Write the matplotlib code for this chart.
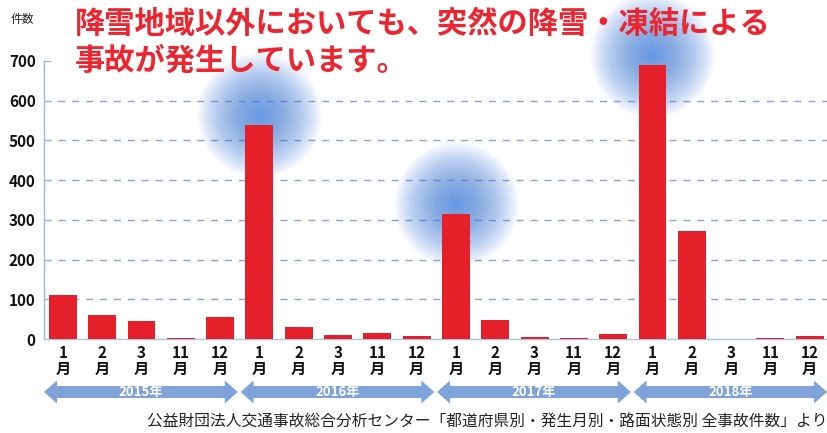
import matplotlib
matplotlib.use("Agg")
import matplotlib.pyplot as plt
import numpy as np
from matplotlib.patches import Polygon
from matplotlib.transforms import blended_transform_factory, offset_copy

plt.rcParams['font.family'] = ['Noto Sans CJK JP', 'DejaVu Sans']

# ---- data ----
years = ["2015年", "2016年", "2017年", "2018年"]
months = ["1", "2", "3", "11", "12"]
values_2015 = [110, 60, 45, 2, 55]
values_2016 = [540, 30, 10, 15, 8]
values_2017 = [315, 48, 4, 2, 13]
values_2018 = [690, 271, 1, 2, 8]
yticks = [0, 100, 200, 300, 400, 500, 600, 700]
title_text = "降雪地域以外においても、突然の降雪・凍結による\n事故が発生しています。"
ylabel_text = "件数"
source_text = "公益財団法人交通事故総合分析センター「都道府県別・発生月別・路面状態別 全事故件数」より"
highlight_months = ["1"]
highlight_years = ["2016年", "2017年", "2018年"]

series = [values_2015, values_2016, values_2017, values_2018]
values = [v for s in series for v in s]
labels = [f"{m}\n月" for _ in years for m in months]
x = np.arange(len(values))

W, H = 827, 433
fig = plt.figure(figsize=(W / 100, H / 100), dpi=100)
ax = fig.add_axes([44 / W, 1 - 339 / H, 1 - 44 / W, (339 - 61) / H])

bar_red = '#e5202b'
grid_col = '#8c9fd2'
spine_col = '#9db3df'
arrow_col = '#7fa2d9'

# glows behind highlighted bars
glow_trans = offset_copy(ax.transData, fig=fig, x=0, y=10, units='dots')
for yi, yr in enumerate(years):
    for mi, m in enumerate(months):
        if yr in highlight_years and m in highlight_months:
            idx = yi * len(months) + mi
            n = 50
            for k in range(n):
                d = 125 * (1 - k / n)  # diameter in px
                s = (d * 0.72) ** 2
                ax.scatter([x[idx]], [values[idx]], s=s, color='#4a86e2',
                           alpha=0.026, linewidths=0, zorder=2, clip_on=False,
                           transform=glow_trans)

ax.bar(x, values, width=0.71, color=bar_red, zorder=3)

ax.set_xlim(-0.48, 19.44)
ax.set_ylim(0, 700)
ax.set_yticks(yticks)
ax.set_yticklabels([str(t) for t in yticks], fontsize=11, fontweight='bold', color='#111111')
ax.tick_params(axis='y', direction='in', length=5, color=spine_col, pad=6)
for t in yticks[1:-1]:
    ax.axhline(t, color=grid_col, lw=1.0, ls=(0, (5, 5)), zorder=0)

ax.set_xticks(x)
ax.set_xticklabels(labels, fontsize=11, fontweight='bold', color='#111111', linespacing=1.0)
ax.tick_params(axis='x', length=0, pad=4)

for sp in ['top', 'right']:
    ax.spines[sp].set_visible(False)
ax.spines['left'].set_color(spine_col)
ax.spines['left'].set_linewidth(1.0)
ax.spines['bottom'].set_color('#a9c6e6')
ax.spines['bottom'].set_linewidth(1.0)

# year arrows
trans = blended_transform_factory(ax.transData, ax.transAxes)
px = 1 / (339 - 61)
yc = -(392 - 339) * px
bh = 6 * px
hh = 11.5 * px
hl = 0.33
spans = [(-0.48, 4.45), (4.52, 9.45), (9.52, 14.45), (14.52, 19.44)]
for yr, (a, b) in zip(years, spans):
    pts = [(a, yc), (a + hl, yc + hh), (a + hl, yc + bh), (b - hl, yc + bh),
           (b - hl, yc + hh), (b, yc), (b - hl, yc - hh), (b - hl, yc - bh),
           (a + hl, yc - bh), (a + hl, yc - hh)]
    ax.add_patch(Polygon(pts, closed=True, facecolor=arrow_col, edgecolor='none',
                         transform=trans, clip_on=False))
    ax.text((a + b) / 2, yc, yr, transform=trans, ha='center', va='center',
            fontsize=9.5, fontweight='bold', color='white')

fig.text(75 / W, 1 - 8 / H, title_text, ha='left', va='top', fontsize=21.8,
         fontweight='bold', color='#ec2630', linespacing=1.18)
fig.text(22 / W, 1 - 20 / H, ylabel_text, ha='center', va='center', fontsize=8.5,
         color='#222222')
fig.text(147 / W, 1 - 421 / H, source_text, ha='left', va='center', fontsize=11.3,
         color='#222222')

fig.savefig("out.png", dpi=100)
